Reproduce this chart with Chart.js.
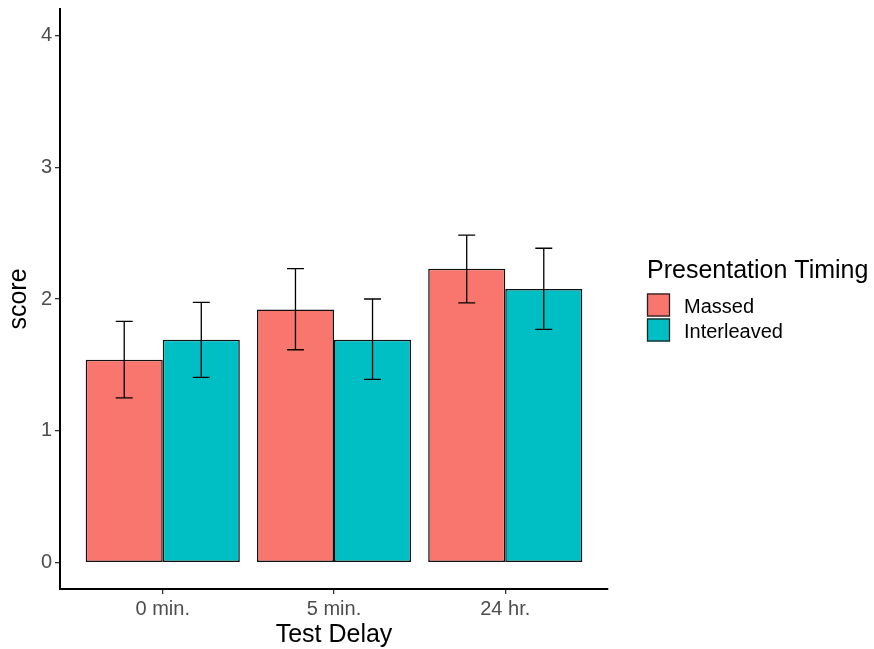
<!DOCTYPE html>
<html lang="en">
<head>
    <meta charset="UTF-8">
    <title>Score by Test Delay</title>
    <script src="https://cdn.jsdelivr.net/npm/chart.js"></script>
    <style>
        body { margin: 0; background: #fff; }
        #wrap { width: 874px; height: 649px; position: relative; }
    </style>
</head>
<body>
    <div id="wrap"><canvas id="scoreChart"></canvas></div>

    <script>
        // data
        const delays = ['0 min.', '5 min.', '24 hr.'];
        const yTicks = [0, 1, 2, 3, 4];

        const massed = [1.54, 1.92, 2.23];
        const massedLow = [1.25, 1.615, 1.97];
        const massedHigh = [1.83, 2.23, 2.485];

        const interleaved = [1.69, 1.69, 2.075];
        const interleavedLow = [1.405, 1.39, 1.77];
        const interleavedHigh = [1.975, 2.0, 2.385];

        const FONT = '"Liberation Sans", Arial, Helvetica, sans-serif';
        Chart.defaults.font.family = FONT;

        const toPoints = vals => vals.map((v, i) => ({ x: i, y: v }));

        // error bars drawn from the bar elements and the y scale
        const errorBars = {
            id: 'errorBars',
            afterDatasetsDraw(chart) {
                const ctx = chart.ctx;
                const yScale = chart.scales.y;
                ctx.save();
                ctx.strokeStyle = '#000';
                ctx.lineWidth = 1.3;
                chart.data.datasets.forEach((ds, d) => {
                    const meta = chart.getDatasetMeta(d);
                    meta.data.forEach((bar, i) => {
                        const yLo = yScale.getPixelForValue(ds.errLow[i]);
                        const yHi = yScale.getPixelForValue(ds.errHigh[i]);
                        const half = bar.width * 0.11;
                        ctx.beginPath();
                        ctx.moveTo(bar.x, yLo);
                        ctx.lineTo(bar.x, yHi);
                        ctx.moveTo(bar.x - half, yLo);
                        ctx.lineTo(bar.x + half, yLo);
                        ctx.moveTo(bar.x - half, yHi);
                        ctx.lineTo(bar.x + half, yHi);
                        ctx.stroke();
                    });
                });
                ctx.restore();
            }
        };

        // legend in the ggplot style, to the right of the plot
        const sideLegend = {
            id: 'sideLegend',
            afterDraw(chart) {
                const ctx = chart.ctx;
                const x0 = chart.chartArea.right + 39;
                ctx.save();
                ctx.fillStyle = '#000';
                ctx.textAlign = 'left';
                ctx.textBaseline = 'alphabetic';
                ctx.font = '25px ' + FONT;
                ctx.fillText('Presentation Timing', x0, 278);
                ctx.font = '20px ' + FONT;
                chart.data.datasets.forEach((ds, d) => {
                    const top = 293.5 + d * 25;
                    ctx.fillStyle = ds.backgroundColor;
                    ctx.fillRect(x0, top, 23, 23);
                    ctx.strokeStyle = '#222';
                    ctx.lineWidth = 1.3;
                    ctx.strokeRect(x0 + 0.5, top + 0.5, 22, 22);
                    ctx.fillStyle = '#000';
                    ctx.fillText(ds.label, x0 + 37, top + 19);
                });
                ctx.restore();
            }
        };

        const ctx = document.getElementById('scoreChart').getContext('2d');
        new Chart(ctx, {
            type: 'bar',
            data: {
                datasets: [
                    {
                        label: 'Massed',
                        data: toPoints(massed),
                        errLow: massedLow,
                        errHigh: massedHigh,
                        backgroundColor: '#F8766D',
                        borderColor: '#111',
                        borderWidth: 1.5,
                        borderSkipped: false
                    },
                    {
                        label: 'Interleaved',
                        data: toPoints(interleaved),
                        errLow: interleavedLow,
                        errHigh: interleavedHigh,
                        backgroundColor: '#00BFC4',
                        borderColor: '#111',
                        borderWidth: 1.5,
                        borderSkipped: false
                    }
                ]
            },
            options: {
                responsive: true,
                maintainAspectRatio: false,
                animation: false,
                categoryPercentage: 0.9,
                barPercentage: 1.0,
                layout: { padding: { top: 9, right: 266, left: 0, bottom: 0 } },
                plugins: {
                    legend: { display: false },
                    tooltip: { enabled: false }
                },
                scales: {
                    x: {
                        type: 'linear',
                        min: -0.6,
                        max: 2.6,
                        offset: false,
                        afterBuildTicks: scale => {
                            scale.ticks = delays.map((_, i) => ({ value: i }));
                        },
                        afterFit: scale => {
                            scale.height = 60;
                            scale.paddingLeft = 0;
                            scale.paddingRight = 0;
                        },
                        ticks: {
                            callback: v => delays[v],
                            color: '#4D4D4D',
                            font: { size: 20 },
                            padding: 3,
                            maxRotation: 0
                        },
                        grid: {
                            offset: false,
                            drawOnChartArea: false,
                            drawTicks: true,
                            tickLength: 5,
                            color: '#333',
                            lineWidth: 1.3
                        },
                        border: { display: true, color: '#000', width: 2 },
                        title: {
                            display: true,
                            text: 'Test Delay',
                            color: '#000',
                            font: { size: 25, lineHeight: 1.1 },
                            padding: { top: 0, bottom: 0 }
                        }
                    },
                    y: {
                        min: -0.2,
                        max: 4.2,
                        afterBuildTicks: scale => {
                            scale.ticks = yTicks.map(v => ({ value: v }));
                        },
                        afterFit: scale => {
                            scale.width = 60;
                            scale.paddingTop = 0;
                            scale.paddingBottom = 0;
                        },
                        ticks: {
                            color: '#4D4D4D',
                            font: { size: 20 },
                            padding: 3
                        },
                        grid: {
                            drawOnChartArea: false,
                            drawTicks: true,
                            tickLength: 5,
                            color: '#333',
                            lineWidth: 1.3
                        },
                        border: { display: true, color: '#000', width: 2 },
                        title: {
                            display: true,
                            text: 'score',
                            color: '#000',
                            font: { size: 25, lineHeight: 1.1 },
                            padding: { top: 5, bottom: 0 }
                        }
                    }
                }
            },
            plugins: [errorBars, sideLegend]
        });
    </script>
</body>
</html>
